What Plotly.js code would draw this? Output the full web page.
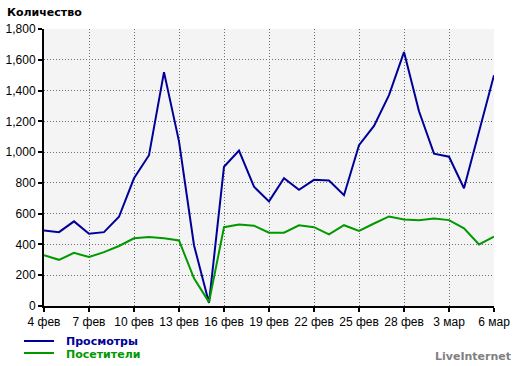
<!DOCTYPE html>
<html>
<head>
<meta charset="utf-8">
<script src="https://cdn.plot.ly/plotly-3.0.1.min.js"></script>
<style>html,body{margin:0;padding:0;background:#fff;}#chart{width:520px;height:366px;}</style>
</head>
<body>
<div id="chart"></div>
<script>
const dates = ["4 фев","5 фев","6 фев","7 фев","8 фев","9 фев","10 фев","11 фев","12 фев","13 фев",
  "14 фев","15 фев","16 фев","17 фев","18 фев","19 фев","20 фев","21 фев","22 фев","23 фев",
  "24 фев","25 фев","26 фев","27 фев","28 фев","1 мар","2 мар","3 мар","4 мар","5 мар","6 мар"];
const views = [490, 480, 550, 470, 480, 580, 830, 980, 1520, 1070, 395, 20, 905, 1010, 775, 680,
  830, 755, 820, 815, 720, 1045, 1170, 1370, 1650, 1265, 990, 970, 765, 1135, 1500];
const visitors = [330, 300, 345, 318, 350, 390, 440, 448, 440, 426, 180, 25, 512, 530, 522, 476,
  476, 524, 512, 465, 525, 488, 536, 582, 562, 558, 568, 558, 505, 400, 450];
const tickLabels = ["4 фев","7 фев","10 фев","13 фев","16 фев","19 фев","22 фев","25 фев","28 фев","3 мар","6 мар"];
const seriesNames = ["Просмотры", "Посетители"];
const seriesColors = ["#000099", "#009900"];
const yTitle = "Количество";
const brand = "LiveInternet";

const L = 44, T = 29, W = 450, H = 277;
const px = x => (x - L) / W;
const py = y => (T + H - y) / H;

const traces = [
  {x: dates, y: views, type: "scatter", mode: "lines", name: seriesNames[0],
   line: {color: seriesColors[0], width: 2}, hoverinfo: "skip"},
  {x: dates, y: visitors, type: "scatter", mode: "lines", name: seriesNames[1],
   line: {color: seriesColors[1], width: 2}, hoverinfo: "skip"}
];

const tickFont = {family: "Liberation Sans, Arial, sans-serif", size: 12, color: "#000"};

const layout = {
  width: 520, height: 366,
  margin: {l: L, r: 520 - L - W, t: T, b: 366 - T - H, pad: 0},
  paper_bgcolor: "#ffffff",
  plot_bgcolor: "#f4f4f4",
  showlegend: false,
  xaxis: {
    type: "category", range: [0, dates.length - 1],
    tickmode: "array", tickvals: tickLabels, ticktext: tickLabels,
    showgrid: true, gridcolor: "#707070", griddash: "1px,2px", gridwidth: 1,
    showline: true, linecolor: "#000", linewidth: 2,
    ticks: "outside", ticklen: 4, tickcolor: "#000", tickwidth: 2,
    tickfont: tickFont, zeroline: false, fixedrange: true
  },
  yaxis: {
    range: [0, 1800], dtick: 200, tick0: 0, tickformat: ",",
    showgrid: true, gridcolor: "#707070", griddash: "1px,2px", gridwidth: 1,
    showline: true, linecolor: "#000", linewidth: 2,
    ticks: "outside", ticklen: 4, tickcolor: "#000", tickwidth: 2,
    tickfont: tickFont, zeroline: false, fixedrange: true
  },
  shapes: [
    {type: "line", xref: "paper", yref: "paper", x0: px(24), x1: px(54), y0: py(341), y1: py(341),
     line: {color: seriesColors[0], width: 2}},
    {type: "line", xref: "paper", yref: "paper", x0: px(24), x1: px(54), y0: py(353), y1: py(353),
     line: {color: seriesColors[1], width: 2}}
  ],
  annotations: [
    {text: "<b>" + yTitle + "</b>", xref: "paper", yref: "paper", x: px(5), y: py(12),
     xanchor: "left", yanchor: "middle", showarrow: false,
     font: {family: "DejaVu Sans, Verdana, sans-serif", size: 11, color: "#000"}},
    {text: "<b>" + seriesNames[0] + "</b>", xref: "paper", yref: "paper", x: px(64), y: py(341),
     xanchor: "left", yanchor: "middle", showarrow: false,
     font: {family: "DejaVu Sans, Verdana, sans-serif", size: 11, color: seriesColors[0]}},
    {text: "<b>" + seriesNames[1] + "</b>", xref: "paper", yref: "paper", x: px(64), y: py(354),
     xanchor: "left", yanchor: "middle", showarrow: false,
     font: {family: "DejaVu Sans, Verdana, sans-serif", size: 11, color: seriesColors[1]}},
    {text: "<b>" + brand + "</b>", xref: "paper", yref: "paper", x: px(513), y: py(356),
     xanchor: "right", yanchor: "middle", showarrow: false,
     font: {family: "DejaVu Sans, Verdana, sans-serif", size: 11, color: "#808080"}}
  ]
};

Plotly.newPlot("chart", traces, layout, {staticPlot: true, displayModeBar: false});
</script>
</body>
</html>
